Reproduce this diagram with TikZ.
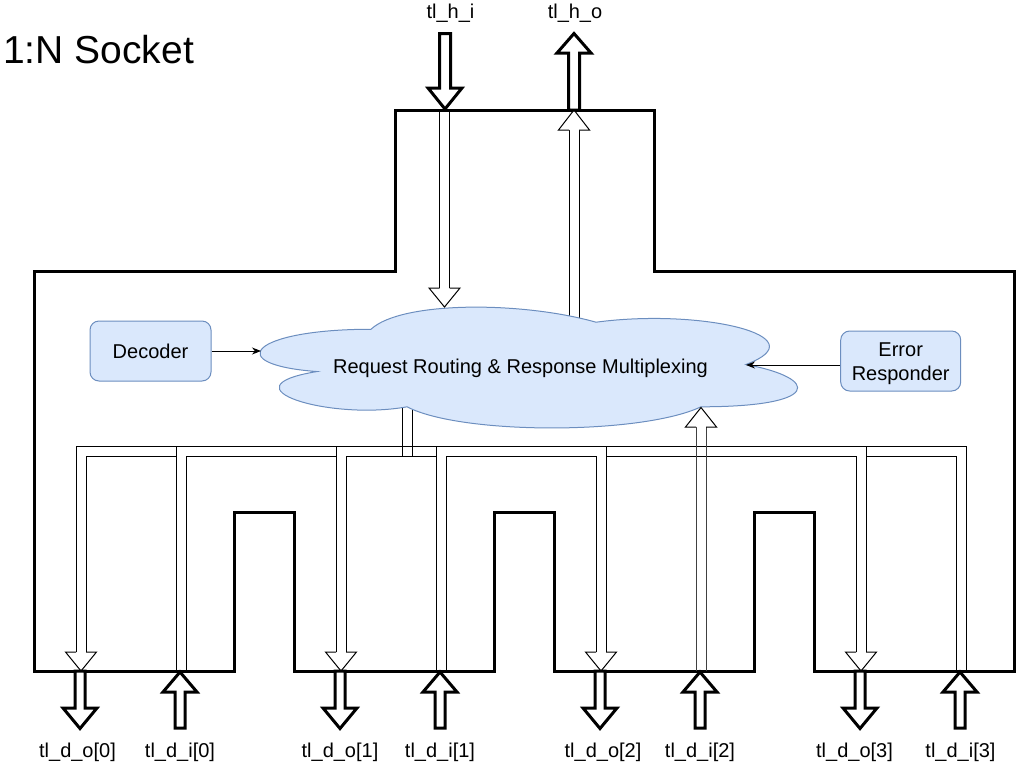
\documentclass[tikz,border=0pt]{standalone}
\usepackage{fontspec}
\setmainfont{Liberation Sans}
\usetikzlibrary{arrows.meta}
\definecolor{boxfill}{HTML}{DAE8FC}
\definecolor{boxline}{HTML}{6C8EBF}
\begin{document}
\begin{tikzpicture}[x=1pt,y=-1pt,
  body/.style={line width=3pt, line join=miter},
  fat/.style={line width=3pt, fill=white, line join=miter, miter limit=10},
  thinline/.style={line width=1pt},
  thinhead/.style={line width=1pt, fill=white, line join=miter},
  blk/.style={fill=boxfill, draw=boxline, rounded corners=9pt, line width=1pt},
  lbl/.style={font=\fontsize{20}{24}\selectfont, inner sep=0pt, anchor=base},
  link/.style={line width=1pt, -{Stealth[length=9pt,width=7pt]}}
]
\useasboundingbox (0,0) rectangle (1018,764);

% title
\node[font=\fontsize{39}{46}\selectfont, inner sep=0pt, anchor=base west] (title) at (3,63) {1:N Socket};

% socket body
\draw[body] (34,671) -- (34,271) -- (395,271) -- (395,110) -- (654,110) -- (654,271)
  -- (1014,271) -- (1014,671) -- (814,671) -- (814,512) -- (754,512) -- (754,671)
  -- (554,671) -- (554,512) -- (494,512) -- (494,671) -- (294,671) -- (294,512)
  -- (234,512) -- (234,671) -- cycle;

% lines that enter the cloud (drawn before the cloud so it covers their ends)
\draw[thinline] (402,398) -- (402,456);
\draw[thinline] (412,398) -- (412,456);
\draw[thinline] (569,330) -- (569,130);
\draw[thinline] (579,330) -- (579,130);

% cloud
\draw[fill=boxfill, draw=boxline, line width=1pt]
  (371,329.25)
  .. controls (251,329.25) and (221,364.5) .. (317,371.55)
  .. controls (221,387.06) and (329,420.9) .. (407,406.8)
  .. controls (461,435) and (641,435) .. (701,406.8)
  .. controls (821,406.8) and (821,378.6) .. (746,364.5)
  .. controls (821,336.3) and (701,308.1) .. (596,322.2)
  .. controls (521,301.05) and (401,301.05) .. (371,329.25) -- cycle;
\node[lbl] (cloudtxt) at (520.5,373) {Request Routing \& Response Multiplexing};
\coordinate (clL) at (261,351);
\coordinate (clR) at (746,365);

% decoder and error responder
\node[blk, minimum width=121pt, minimum height=60pt, inner sep=0pt,
      font=\fontsize{20}{24}\selectfont] (dec) at (150.5,351) {Decoder};
\node[blk, minimum width=120pt, minimum height=60pt, inner sep=0pt] (err) at (900.7,361) {};
\node[lbl] (errt1) at (900.7,356) {Error};
\node[lbl] (errt2) at (900.7,380) {Responder};
\draw[link] (dec.east) -- (clL);
\draw[link] (err.west |- clR) -- (clR);

% host side: thin arrows inside
\draw[thinline] (439.5,110) -- (439.5,288);
\draw[thinline] (449.5,110) -- (449.5,288);
\draw[thinhead] (439.5,288) -- (429,288) -- (444.5,307) -- (460,288) -- (449.5,288);
\draw[thinhead] (569,130) -- (558.5,130) -- (574,110) -- (589.5,130) -- (579,130);

% host side: fat arrows outside
\draw[fat] (439.5,33.5) -- (450.5,33.5) -- (450.5,88) -- (462,88) -- (445,109) -- (428,88) -- (439.5,88) -- cycle;
\draw[fat] (568.5,110) -- (568.5,53) -- (557,53) -- (574,33.5) -- (591,53) -- (579.5,53) -- (579.5,110) -- cycle;
\node[lbl] (lhi) at (450.5,18) {tl\_h\_i};
\node[lbl] (lho) at (575,18) {tl\_h\_o};

% distribution bus
\draw[thinline] (76,446) -- (966,446);
\draw[thinline] (86,456) -- (176,456) (186,456) -- (336,456) (346,456) -- (436,456)
  (446,456) -- (596,456) (606,456) -- (856,456) (866,456) -- (956,456);
% branches
\draw[thinline] (76,446) -- (76,652) (86,456) -- (86,652);
\draw[thinline] (176,446) -- (176,671) (186,456) -- (186,671);
\draw[thinline] (336,446) -- (336,652) (346,456) -- (346,652);
\draw[thinline] (436,446) -- (436,671) (446,456) -- (446,671);
\draw[thinline] (596,456) -- (596,652) (606,446) -- (606,652);
\draw[thinline] (856,456) -- (856,652) (866,446) -- (866,652);
\draw[thinline] (956,456) -- (956,671) (966,446) -- (966,671);
% thin down heads
\foreach \c in {81,341,601,861}{
  \draw[thinhead] (\c-5,652) -- (\c-15.5,652) -- (\c,671) -- (\c+15.5,652) -- (\c+5,652);
}
% tl_d_i[2] goes straight up to the cloud
\draw[thinline, draw=black!75] (696,671) -- (696,427) (706,671) -- (706,427);
\draw[thinhead] (696,427) -- (685.5,427) -- (701,407.5) -- (716.5,427) -- (706,427);

% device side fat arrows
\foreach \c in {80,340,600,860}{
  \draw[fat] (\c-5,671) -- (\c-5,708) -- (\c-17,708) -- (\c,728.5) -- (\c+17,708) -- (\c+5,708) -- (\c+5,671) -- cycle;
}
\foreach \c in {180,440,700,960}{
  \draw[fat] (\c-5,728) -- (\c-5,692) -- (\c-17,692) -- (\c,672) -- (\c+17,692) -- (\c+5,692) -- (\c+5,728) -- cycle;
}
\node[lbl] (ldo0) at (77.5,757) {tl\_d\_o[0]};
\node[lbl] (ldi0) at (180,757) {tl\_d\_i[0]};
\node[lbl] (ldo1) at (340,757) {tl\_d\_o[1]};
\node[lbl] (ldi1) at (440,757) {tl\_d\_i[1]};
\node[lbl] (ldo2) at (603,757) {tl\_d\_o[2]};
\node[lbl] (ldi2) at (700,757) {tl\_d\_i[2]};
\node[lbl] (ldo3) at (854.5,757) {tl\_d\_o[3]};
\node[lbl] (ldi3) at (960.5,757) {tl\_d\_i[3]};
\end{tikzpicture}
\end{document}
